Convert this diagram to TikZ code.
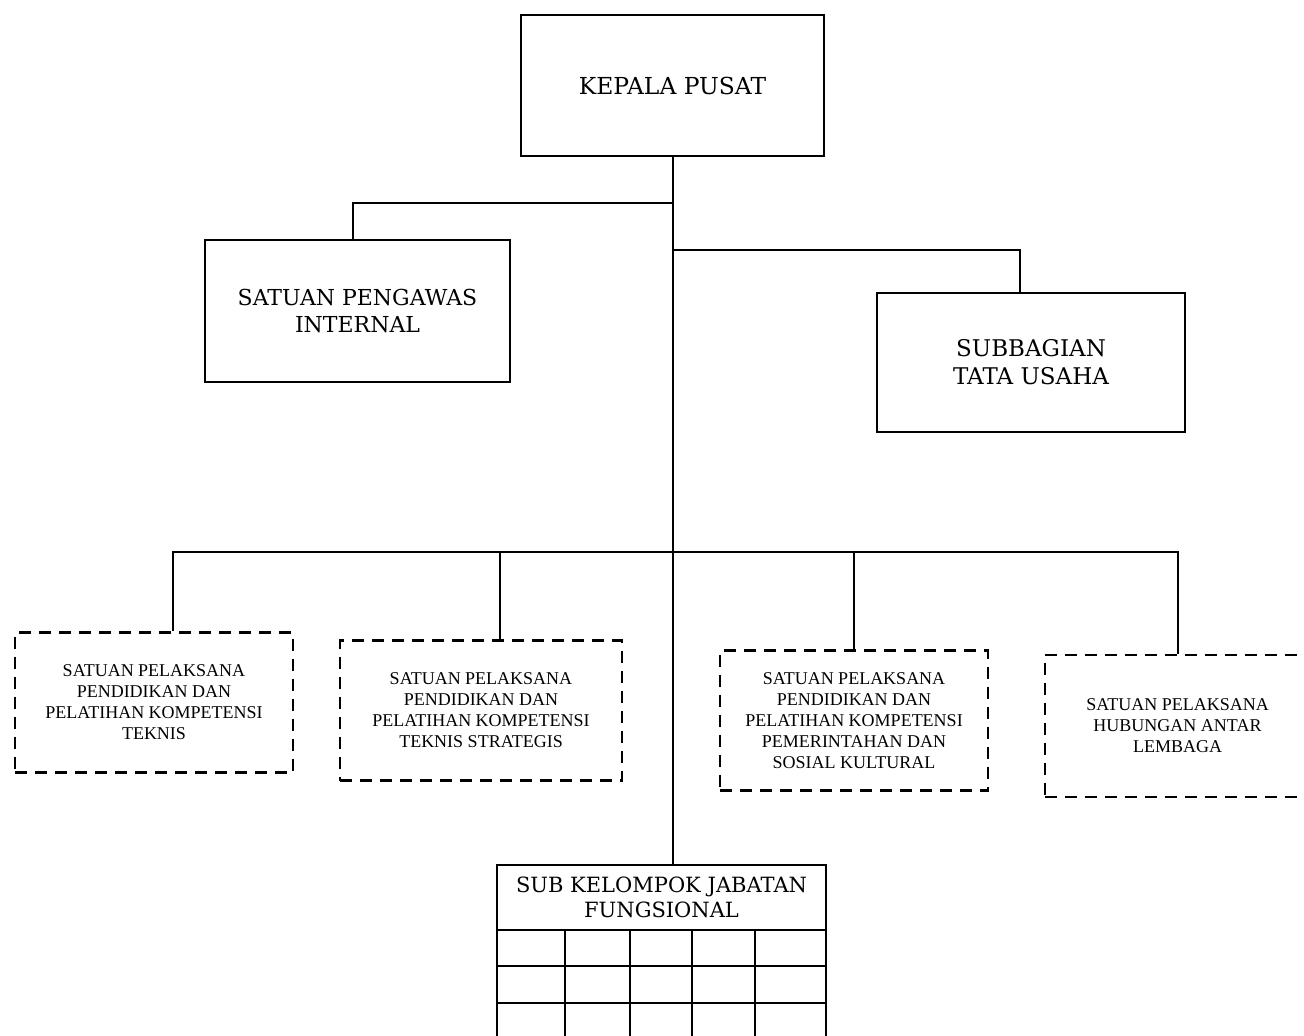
\documentclass[tikz,border=0pt]{standalone}
\usepackage{fontspec}
\setmainfont{Liberation Serif}
\newfontfamily\bkfont{DejaVu Serif}
\begin{document}
\begin{tikzpicture}[x=0.5pt,y=-0.5pt,
  box/.style={draw,line width=1.1pt,align=center,inner sep=0pt},
  dbox/.style={draw,line width=1.2pt,dash pattern=on 6pt off 4pt,align=center,
    inner sep=0pt,minimum height=70pt,font=\fontsize{9}{10.5}\selectfont},
  ln/.style={line width=1pt},grd/.style={line width=1.1pt}]
  \useasboundingbox (0,0) rectangle (1304,1036);
  \clip (0,0) rectangle (1304,1036);
  % top levels
  \node[box,minimum width=151.5pt,minimum height=70.5pt,
    font=\bkfont\fontsize{11.7}{13}\selectfont] (kp) at (672.5,85.5) {KEPALA PUSAT};
  \node[box,minimum width=152.5pt,minimum height=71pt,
    font=\bkfont\fontsize{11}{13.3}\selectfont] (spi) at (357.5,311)
    {SATUAN PENGAWAS\\INTERNAL};
  \node[box,minimum width=154pt,minimum height=69.5pt,
    font=\bkfont\fontsize{11.5}{14}\selectfont] (tu) at (1031,362.5)
    {SUBBAGIAN\\TATA USAHA};
  % satuan pelaksana
  \node[dbox,minimum width=139pt] (b1) at (154,702.5)
    {SATUAN PELAKSANA\\PENDIDIKAN DAN\\PELATIHAN KOMPETENSI\\TEKNIS};
  \node[dbox,minimum width=141pt] (b2) at (481,710.5)
    {SATUAN PELAKSANA\\PENDIDIKAN DAN\\PELATIHAN KOMPETENSI\\TEKNIS STRATEGIS};
  \node[dbox,minimum width=134pt] (b3) at (854,720.5)
    {SATUAN PELAKSANA\\PENDIDIKAN DAN\\PELATIHAN KOMPETENSI\\PEMERINTAHAN DAN\\SOSIAL KULTURAL};
  \node[dbox,minimum width=132.5pt,minimum height=71pt] (b4) at (1177.5,726)
    {SATUAN PELAKSANA\\HUBUNGAN ANTAR\\LEMBAGA};
  % jabatan fungsional
  \node[box,minimum width=164.5pt,minimum height=32.5pt,
    font=\bkfont\fontsize{10.5}{12.5}\selectfont] (skjf) at (661.5,897.5)
    {SUB KELOMPOK JABATAN\\FUNGSIONAL};
  \foreach \c in {497,565,630,692,755,826}
    \draw[grd] (\c,930) -- (\c,1040);
  \foreach \r in {966,1003}
    \draw[grd] (497,\r) -- (826,\r);
  % lines
  \coordinate (j1) at (672.5,203);
  \coordinate (j2) at (672.5,250);
  \coordinate (j3) at (672.5,552);
  \draw[ln] (kp.south) -- (kp.south |- skjf.north);
  \draw[ln] (j1) -| ([xshift=-2.5pt]spi.north);
  \draw[ln] (j2) -| ([xshift=-5.5pt]tu.north);
  \foreach \b/\s in {b1/9.5pt,b2/9.5pt,b3/0pt,b4/0pt}
    \draw[ln] (j3) -| ([xshift=\s]\b.north);
\end{tikzpicture}
\end{document}
